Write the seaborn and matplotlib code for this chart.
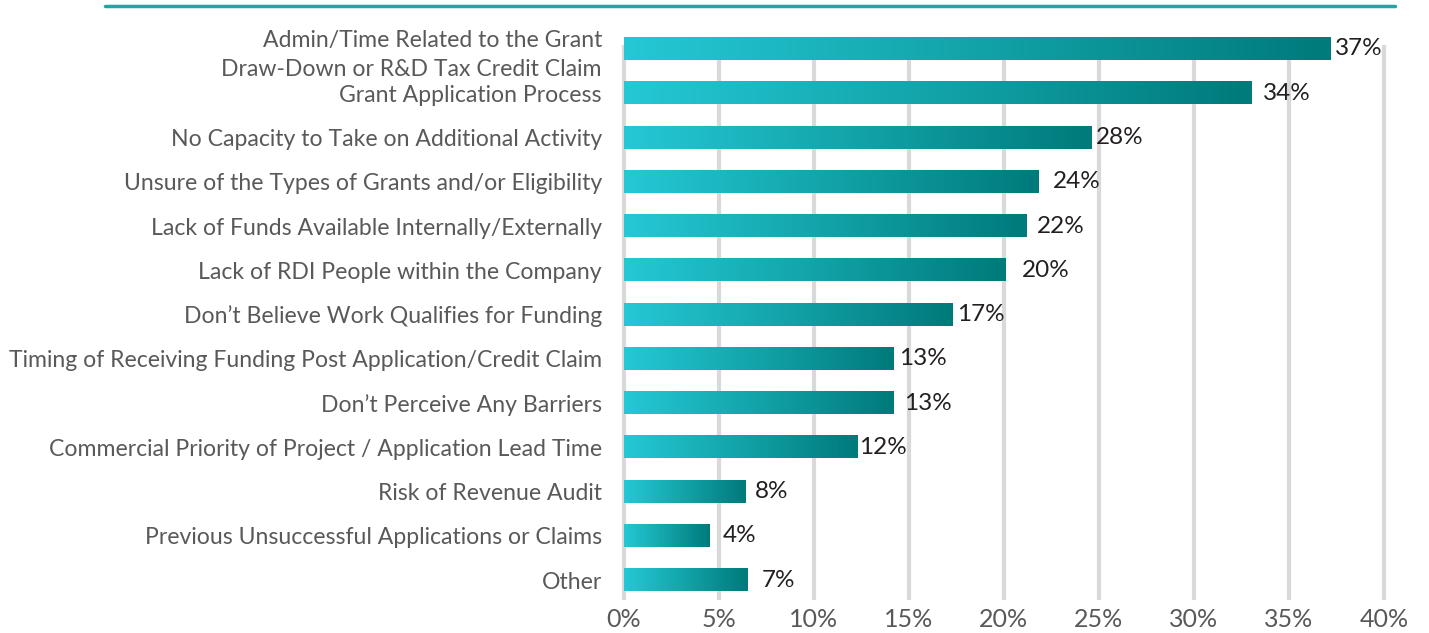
import numpy as np
import matplotlib
matplotlib.use("Agg")
import matplotlib.pyplot as plt
from matplotlib.colors import LinearSegmentedColormap
from matplotlib.lines import Line2D
import seaborn as sns

# barriers to applying for funding
categories = [
    "Admin/Time Related to the Grant\nDraw-Down or R&D Tax Credit Claim",
    "Grant Application Process",
    "No Capacity to Take on Additional Activity",
    "Unsure of the Types of Grants and/or Eligibility",
    "Lack of Funds Available Internally/Externally",
    "Lack of RDI People within the Company",
    "Don\u2019t Believe Work Qualifies for Funding",
    "Timing of Receiving Funding Post Application/Credit Claim",
    "Don\u2019t Perceive Any Barriers",
    "Commercial Priority of Project / Application Lead Time",
    "Risk of Revenue Audit",
    "Previous Unsuccessful Applications or Claims",
    "Other",
]
# bar lengths as drawn in the picture (%)
bar_values = [37.2, 33.0, 24.6, 21.8, 21.2, 20.1, 17.3, 14.2, 14.2, 12.3, 6.4, 4.5, 6.5]
# printed labels
value_labels = ["37%", "34%", "28%", "24%", "22%", "20%", "17%", "13%", "13%", "12%", "8%", "4%", "7%"]
x_ticks = [0, 5, 10, 15, 20, 25, 30, 35, 40]

# gap between bar end and label, in pixels
label_gap = [4, 12, 5, 15, 10, 16, 4, 5, 10, 1, 9, 13, 14]

sns.set_style("white")
plt.rcParams["font.family"] = ["Lato", "DejaVu Sans"]

fig = plt.figure(figsize=(14.29, 6.33), dpi=100)
ax = fig.add_axes([0.4339, 0.0521, 0.5385, 0.8768])

sns.barplot(x=bar_values, y=categories, orient="h", width=0.5,
            color="#1aa7ad", ax=ax, zorder=3)

# gradient fill for each bar
cmap = LinearSegmentedColormap.from_list("teal", ["#25c8d5", "#12a3a8", "#007a7b"])
grad = np.linspace(0, 1, 256).reshape(1, -1)
for p in ax.patches:
    x0, y0 = p.get_x(), p.get_y()
    w, h = p.get_width(), p.get_height()
    p.set_facecolor("none")
    p.set_edgecolor("none")
    im = ax.imshow(grad, cmap=cmap, aspect="auto", extent=[x0, x0 + w, y0 + h, y0],
                   zorder=3, interpolation="bicubic")
    im.set_clip_path(p)
    im.set_clip_on(False)
    p.set_clip_on(False)

ax.set_xlim(-0.2, 40.3)
ax.set_ylim(12.45, -0.09)
ax.set_xticks(x_ticks)
ax.set_xticklabels([f"{t}%" for t in x_ticks])
ax.grid(axis="x", color="#d9d9d9", linewidth=3, zorder=0)
ax.grid(axis="y", visible=False)
for s in ax.spines.values():
    s.set_visible(False)
ax.tick_params(axis="x", length=0, pad=6, labelsize=18, labelcolor="#595959")
ax.tick_params(axis="y", length=0, pad=13, labelsize=16.6, labelcolor="#595959")
for lab in ax.get_yticklabels():
    lab.set_linespacing(1.45)
ax.set_xlabel("")
ax.set_ylabel("")

for i, (v, lab) in enumerate(zip(bar_values, value_labels)):
    ax.annotate(lab, xy=(v, i), xytext=(label_gap[i] * 0.72, 0),
                textcoords="offset points", ha="left", va="center",
                fontsize=17.5, color="#231f20", annotation_clip=False)

# teal rule at the top
fig.add_artist(Line2D([105 / 1429, 1395 / 1429], [1 - 6 / 633, 1 - 6 / 633],
                      color="#1fa5a8", linewidth=2.5))

fig.savefig("out.png", dpi=100)
